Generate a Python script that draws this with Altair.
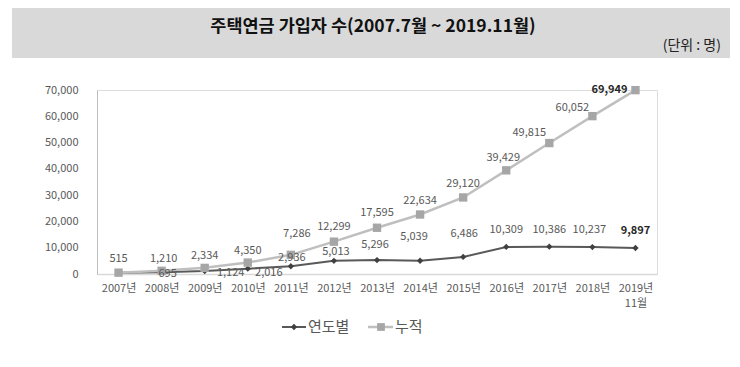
import altair as alt
import pandas as pd

# ---- data ----
years = ["2007년", "2008년", "2009년", "2010년", "2011년", "2012년", "2013년",
         "2014년", "2015년", "2016년", "2017년", "2018년", "2019년 11월"]
annual = [515, 695, 1124, 2016, 2936, 5013, 5296, 5039, 6486, 10309, 10386, 10237, 9897]
cumulative = [515, 1210, 2334, 4350, 7286, 12299, 17595, 22634, 29120, 39429, 49815, 60052, 69949]
series_names = ["연도별", "누적"]
y_ticks = [0, 10000, 20000, 30000, 40000, 50000, 60000, 70000]
title_text = "주택연금 가입자 수(2007.7월 ~ 2019.11월)"
unit_text = "(단위 : 명)"

# ---- label placement (pixel offsets, style only) ----
annual_show = [False] + [True] * 12
annual_dx = [0, 6, 26, 21, 1, 2, -2, -6, 1, 0, 0, -3, 0]
annual_dy = [0, 2, 2, 4, -8, -9, -15, -24, -23, -17, -17, -17, -17]
cum_dx = [0, 2, 0, 0, 6, 0, 0, 0, 0, -3, -20, -20, -26]
cum_dy = [-14, -12, -12, -12, -21, -15, -15, -14, -13, -12, -10, -8, 0]

rows = []
for i, y in enumerate(years):
    rows.append(dict(key=f"a{i}", year=y, series=series_names[0], value=annual[i],
                     label=f"{annual[i]:,}", dx=annual_dx[i], dy=annual_dy[i],
                     bold=(i == len(years) - 1), show=annual_show[i]))
    rows.append(dict(key=f"c{i}", year=y, series=series_names[1], value=cumulative[i],
                     label=f"{cumulative[i]:,}", dx=cum_dx[i], dy=cum_dy[i],
                     bold=(i == len(years) - 1), show=True))
df = pd.DataFrame(rows)

FONT = "Noto Sans CJK KR"
W, H = 560, 184

x_enc = alt.X("year:N", sort=years,
              scale=alt.Scale(domain=years, type="point", padding=0.5),
              axis=alt.Axis(title=None, labelAngle=0, ticks=False, domainColor="#d9d9d9",
                            domainWidth=1.5, labelColor="#595959", labelFontSize=11,
                            labelPadding=8, labelOverlap=False, labelFont=FONT,
                            labelExpr="split(datum.label, ' ')", labelLineHeight=15))
y_enc = alt.Y("value:Q", scale=alt.Scale(domain=[0, 70000]),
              axis=alt.Axis(title=None, values=y_ticks, format=",d", ticks=False, grid=False,
                            domainColor="#bfbfbf", labelColor="#595959", labelFontSize=11,
                            labelPadding=19, labelFont=FONT, labelOverlap=False))

base = alt.Chart(df).encode(x=x_enc, y=y_enc)

annual_line = base.transform_filter(alt.datum.series == series_names[0]).mark_line(
    color="#595959", strokeWidth=2)
annual_pts = base.transform_filter(alt.datum.series == series_names[0]).mark_point(
    shape="diamond", filled=True, size=40, color="#404040", opacity=1)
cum_line = base.transform_filter(alt.datum.series == series_names[1]).mark_line(
    color="#bfbfbf", strokeWidth=2.5)
cum_pts = base.transform_filter(alt.datum.series == series_names[1]).mark_point(
    shape="square", filled=True, size=70, color="#a6a6a6", opacity=1)

label_layers = []
for r in rows:
    if not r["show"]:
        continue
    label_layers.append(
        base.transform_filter(alt.datum.key == r["key"]).mark_text(
            dx=r["dx"], dy=r["dy"], fontSize=11, font=FONT,
            fontWeight="bold" if r["bold"] else "normal",
            color="#262626" if r["bold"] else "#595959",
            align="center", baseline="middle"
        ).encode(text="label:N")
    )

one = pd.DataFrame({"t": [title_text]})
banner = alt.Chart(one).mark_rect(color="#d9d9d9").encode(
    x=alt.value(-85), x2=alt.value(633), y=alt.value(-82), y2=alt.value(-32))
title = alt.Chart(one).mark_text(fontSize=17.5, fontWeight="bold", font=FONT, color="#111111",
                                 align="center", baseline="middle").encode(
    x=alt.value(276), y=alt.value(-63), text="t:N")
unit = alt.Chart(pd.DataFrame({"t": [unit_text]})).mark_text(
    fontSize=14, font=FONT, color="#222222", align="right", baseline="middle").encode(
    x=alt.value(624), y=alt.value(-44), text="t:N")

leg_y = 237
leg_line1 = alt.Chart(one).mark_rule(color="#595959", strokeWidth=2).encode(
    x=alt.value(185), x2=alt.value(209), y=alt.value(leg_y))
leg_pt1 = alt.Chart(one).mark_point(shape="diamond", filled=True, size=40, color="#404040",
                                    opacity=1).encode(x=alt.value(197), y=alt.value(leg_y))
leg_txt1 = alt.Chart(pd.DataFrame({"t": [series_names[0]]})).mark_text(
    fontSize=15, font=FONT, color="#595959", align="left", baseline="middle").encode(
    x=alt.value(211), y=alt.value(leg_y), text="t:N")
leg_line2 = alt.Chart(one).mark_rule(color="#bfbfbf", strokeWidth=2.5).encode(
    x=alt.value(271), x2=alt.value(296), y=alt.value(leg_y))
leg_pt2 = alt.Chart(one).mark_point(shape="square", filled=True, size=60, color="#a6a6a6",
                                    opacity=1).encode(x=alt.value(284), y=alt.value(leg_y))
leg_txt2 = alt.Chart(pd.DataFrame({"t": [series_names[1]]})).mark_text(
    fontSize=15, font=FONT, color="#595959", align="left", baseline="middle").encode(
    x=alt.value(298), y=alt.value(leg_y), text="t:N")

chart = alt.layer(
    banner, title, unit,
    annual_line, annual_pts, cum_line, cum_pts,
    *label_layers,
    leg_line1, leg_pt1, leg_txt1, leg_line2, leg_pt2, leg_txt2,
).properties(
    width=W, height=H,
    padding={"left": 89, "top": 82, "right": 75, "bottom": 85},
    autosize=alt.AutoSizeParams(type="none"),
    background="white",
).configure_view(stroke=None).configure(font=FONT)

chart.save("out.html", embed_options={"renderer": "svg", "actions": False})
